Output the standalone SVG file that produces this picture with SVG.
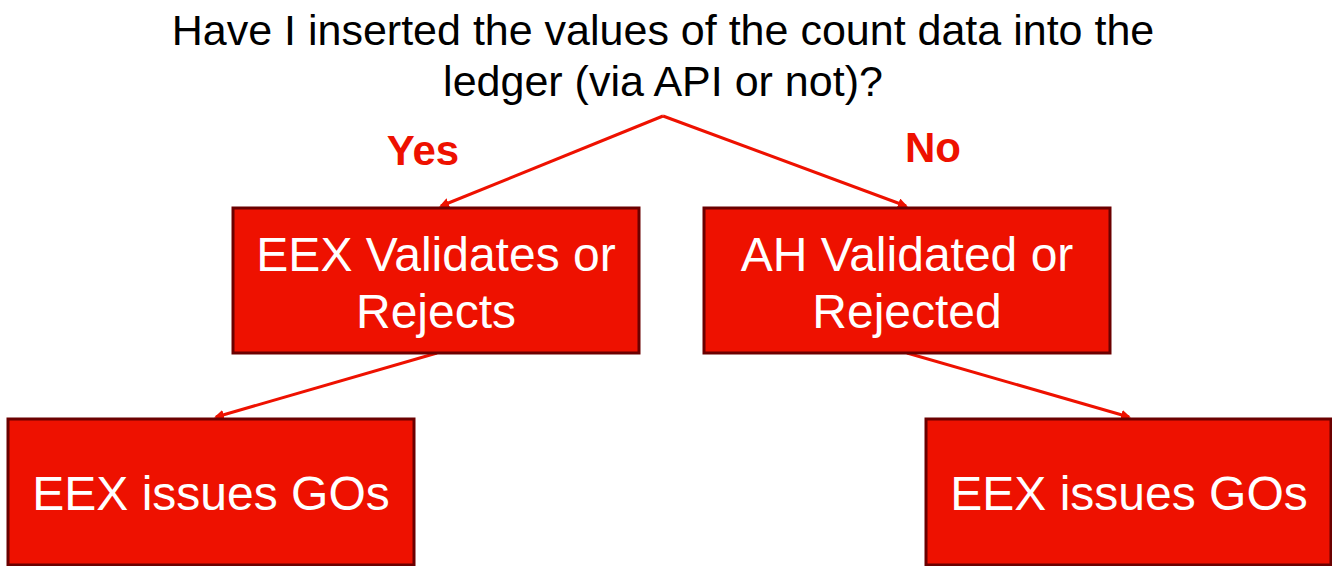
<svg xmlns="http://www.w3.org/2000/svg" width="1332" height="566" viewBox="0 0 1332 566">
<defs>
<style>
.box{fill:#ee1100;stroke:#6b0000;stroke-width:3}
.bt{fill:#ffffff;font-family:"Liberation Sans",Arial,sans-serif;font-size:48px;text-anchor:middle}
.title{fill:#000000;font-family:"Liberation Sans",Arial,sans-serif;font-size:43px;text-anchor:middle}
.lbl{fill:#ee1100;font-family:"Liberation Sans",Arial,sans-serif;font-size:42px;font-weight:bold;text-anchor:middle}
.con{stroke:#ee1100;stroke-width:3;fill:none}
</style>
<marker id="ah" markerWidth="10" markerHeight="10" refX="8" refY="5" orient="auto" markerUnits="userSpaceOnUse" viewBox="0 0 10 10">
<path d="M0,0 L10,5 L0,10 z" fill="#ee1100"/>
</marker>
</defs>
<rect width="1332" height="566" fill="#ffffff"/>
<g id="title">
<text class="title" x="663" y="45">Have I inserted the values of the count data into the</text>
<text class="title" x="663" y="96">ledger (via API or not)?</text>
</g>
<g id="connectors">
<line class="con" x1="663" y1="116" x2="441" y2="206" marker-end="url(#ah)"/>
<line class="con" x1="663" y1="116" x2="906" y2="206" marker-end="url(#ah)"/>
<line class="con" x1="437" y1="353" x2="216" y2="417" marker-end="url(#ah)"/>
<line class="con" x1="907" y1="353" x2="1129" y2="417" marker-end="url(#ah)"/>
<text class="lbl" x="423" y="165">Yes</text>
<text class="lbl" x="933" y="162">No</text>
</g>
<g id="n1">
<rect class="box" x="233" y="208" width="406" height="145"/>
<text class="bt" x="436" y="271">EEX Validates or</text>
<text class="bt" x="436" y="328">Rejects</text>
</g>
<g id="n2">
<rect class="box" x="704" y="208" width="406" height="145"/>
<text class="bt" x="907" y="271">AH Validated or</text>
<text class="bt" x="907" y="328">Rejected</text>
</g>
<g id="n3">
<rect class="box" x="8" y="419" width="406" height="146"/>
<text class="bt" x="211" y="510">EEX issues GOs</text>
</g>
<g id="n4">
<rect class="box" x="926" y="419" width="405" height="146"/>
<text class="bt" x="1129" y="510">EEX issues GOs</text>
</g>
</svg>
